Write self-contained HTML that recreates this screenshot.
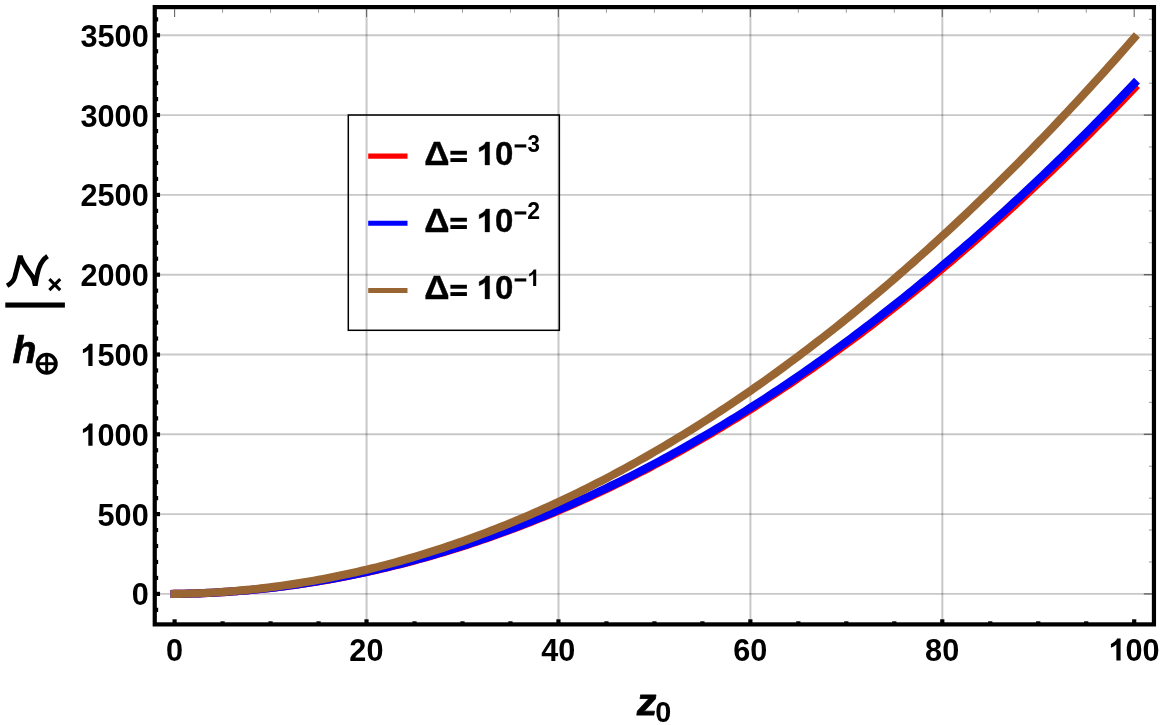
<!DOCTYPE html>
<html><head><meta charset="utf-8"><title>plot</title>
<style>html,body{margin:0;padding:0;background:#fff;}body{width:1163px;height:725px;overflow:hidden;}svg{display:block;will-change:transform;}text{font-family:"Liberation Sans",sans-serif;font-weight:bold;fill:#000;font-kerning:none;}</style>
</head><body>
<svg width="1163" height="725" viewBox="0 0 1163 725">
<rect x="0" y="0" width="1163" height="725" fill="#fff"/>
<g stroke="#000" stroke-opacity="0.216" stroke-width="1.9" fill="none">
<line x1="366.57" y1="7.10" x2="366.57" y2="624.40" stroke-width="2"/>
<line x1="558.49" y1="7.10" x2="558.49" y2="624.40" stroke-width="2"/>
<line x1="750.41" y1="7.10" x2="750.41" y2="624.40" stroke-width="2"/>
<line x1="942.33" y1="7.10" x2="942.33" y2="624.40" stroke-width="2"/>
<line x1="154.75" y1="593.90" x2="1153.95" y2="593.90"/>
<line x1="154.75" y1="514.10" x2="1153.95" y2="514.10"/>
<line x1="154.75" y1="434.30" x2="1153.95" y2="434.30"/>
<line x1="154.75" y1="354.50" x2="1153.95" y2="354.50"/>
<line x1="154.75" y1="274.70" x2="1153.95" y2="274.70"/>
<line x1="154.75" y1="194.90" x2="1153.95" y2="194.90"/>
<line x1="154.75" y1="115.10" x2="1153.95" y2="115.10"/>
<line x1="154.75" y1="35.30" x2="1153.95" y2="35.30"/>
</g>
<polyline points="174.60,593.90 179.40,593.84 184.20,593.75 188.99,593.64 193.79,593.50 198.59,593.34 203.39,593.16 208.19,592.95 212.98,592.71 217.78,592.45 222.58,592.17 227.38,591.86 232.18,591.52 236.97,591.17 241.77,590.78 246.57,590.37 251.37,589.94 256.17,589.48 260.96,589.00 265.76,588.49 270.56,587.96 275.36,587.40 280.16,586.82 284.95,586.21 289.75,585.58 294.55,584.92 299.35,584.24 304.15,583.53 308.94,582.80 313.74,582.05 318.54,581.27 323.34,580.46 328.14,579.63 332.93,578.78 337.73,577.90 342.53,576.99 347.33,576.06 352.13,575.11 356.92,574.13 361.72,573.13 366.52,572.10 371.32,571.04 376.12,569.97 380.91,568.86 385.71,567.74 390.51,566.58 395.31,565.41 400.11,564.20 404.90,562.98 409.70,561.73 414.50,560.45 419.30,559.15 424.10,557.82 428.89,556.47 433.69,555.10 438.49,553.69 443.29,552.27 448.09,550.82 452.88,549.34 457.68,547.85 462.48,546.32 467.28,544.77 472.08,543.20 476.87,541.60 481.67,539.98 486.47,538.33 491.27,536.65 496.07,534.96 500.86,533.23 505.66,531.49 510.46,529.71 515.26,527.92 520.06,526.09 524.85,524.25 529.65,522.38 534.45,520.48 539.25,518.56 544.05,516.61 548.84,514.64 553.64,512.65 558.44,510.63 563.24,508.58 568.04,506.51 572.83,504.42 577.63,502.30 582.43,500.15 587.23,497.98 592.03,495.79 596.82,493.57 601.62,491.33 606.42,489.06 611.22,486.77 616.02,484.45 620.81,482.11 625.61,479.74 630.41,477.35 635.21,474.93 640.01,472.49 644.80,470.02 649.60,467.53 654.40,465.01 659.20,462.47 664.00,459.91 668.79,457.32 673.59,454.70 678.39,452.06 683.19,449.40 687.99,446.71 692.78,443.99 697.58,441.25 702.38,438.49 707.18,435.70 711.98,432.89 716.77,430.05 721.57,427.18 726.37,424.30 731.17,421.38 735.97,418.45 740.76,415.48 745.56,412.50 750.36,409.48 755.16,406.45 759.96,403.39 764.75,400.30 769.55,397.19 774.35,394.05 779.15,390.89 783.95,387.71 788.74,384.50 793.54,381.26 798.34,378.00 803.14,374.72 807.94,371.41 812.73,368.07 817.53,364.71 822.33,361.33 827.13,357.92 831.93,354.49 836.72,351.03 841.52,347.55 846.32,344.04 851.12,340.51 855.92,336.95 860.71,333.37 865.51,329.76 870.31,326.13 875.11,322.47 879.91,318.79 884.70,315.08 889.50,311.35 894.30,307.60 899.10,303.81 903.90,300.01 908.69,296.18 913.49,292.32 918.29,288.44 923.09,284.54 927.89,280.61 932.68,276.66 937.48,272.68 942.28,268.67 947.08,264.65 951.88,260.59 956.67,256.51 961.47,252.41 966.27,248.28 971.07,244.13 975.87,239.95 980.66,235.75 985.46,231.52 990.26,227.27 995.06,223.00 999.86,218.69 1004.65,214.37 1009.45,210.02 1014.25,205.64 1019.05,201.24 1023.85,196.82 1028.64,192.37 1033.44,187.89 1038.24,183.39 1043.04,178.87 1047.84,174.32 1052.63,169.74 1057.43,165.15 1062.23,160.52 1067.03,155.87 1071.83,151.20 1076.62,146.50 1081.42,141.78 1086.22,137.03 1091.02,132.26 1095.82,127.46 1100.61,122.64 1105.41,117.79 1110.21,112.92 1115.01,108.03 1119.81,103.10 1124.60,98.16 1129.40,93.19 1134.20,88.19" fill="none" stroke="#ff0000" stroke-width="8.15" stroke-linecap="square" stroke-linejoin="round"/>
<polyline points="174.60,593.90 179.40,593.84 184.20,593.75 188.99,593.64 193.79,593.50 198.59,593.34 203.39,593.15 208.19,592.94 212.98,592.70 217.78,592.44 222.58,592.15 227.38,591.84 232.18,591.50 236.97,591.14 241.77,590.75 246.57,590.34 251.37,589.90 256.17,589.44 260.96,588.95 265.76,588.44 270.56,587.90 275.36,587.34 280.16,586.75 284.95,586.14 289.75,585.50 294.55,584.84 299.35,584.15 304.15,583.44 308.94,582.70 313.74,581.94 318.54,581.15 323.34,580.34 328.14,579.50 332.93,578.64 337.73,577.75 342.53,576.84 347.33,575.90 352.13,574.94 356.92,573.95 361.72,572.94 366.52,571.90 371.32,570.84 376.12,569.75 380.91,568.64 385.71,567.50 390.51,566.34 395.31,565.15 400.11,563.93 404.90,562.70 409.70,561.43 414.50,560.15 419.30,558.83 424.10,557.49 428.89,556.13 433.69,554.74 438.49,553.33 443.29,551.89 448.09,550.43 452.88,548.94 457.68,547.43 462.48,545.89 467.28,544.33 472.08,542.74 476.87,541.12 481.67,539.49 486.47,537.82 491.27,536.13 496.07,534.42 500.86,532.68 505.66,530.92 510.46,529.13 515.26,527.32 520.06,525.48 524.85,523.61 529.65,521.73 534.45,519.81 539.25,517.87 544.05,515.91 548.84,513.92 553.64,511.91 558.44,509.87 563.24,507.81 568.04,505.72 572.83,503.60 577.63,501.47 582.43,499.30 587.23,497.11 592.03,494.90 596.82,492.66 601.62,490.40 606.42,488.11 611.22,485.79 616.02,483.46 620.81,481.09 625.61,478.70 630.41,476.29 635.21,473.85 640.01,471.39 644.80,468.90 649.60,466.38 654.40,463.84 659.20,461.28 664.00,458.69 668.79,456.08 673.59,453.44 678.39,450.77 683.19,448.08 687.99,445.37 692.78,442.63 697.58,439.87 702.38,437.08 707.18,434.26 711.98,431.42 716.77,428.56 721.57,425.67 726.37,422.76 731.17,419.82 735.97,416.85 740.76,413.86 745.56,410.85 750.36,407.81 755.16,404.75 759.96,401.66 764.75,398.54 769.55,395.40 774.35,392.24 779.15,389.05 783.95,385.83 788.74,382.59 793.54,379.33 798.34,376.04 803.14,372.73 807.94,369.39 812.73,366.02 817.53,362.63 822.33,359.22 827.13,355.78 831.93,352.31 836.72,348.82 841.52,345.31 846.32,341.77 851.12,338.20 855.92,334.61 860.71,331.00 865.51,327.36 870.31,323.69 875.11,320.00 879.91,316.29 884.70,312.55 889.50,308.79 894.30,305.00 899.10,301.18 903.90,297.34 908.69,293.48 913.49,289.59 918.29,285.67 923.09,281.73 927.89,277.77 932.68,273.78 937.48,269.76 942.28,265.72 947.08,261.65 951.88,257.56 956.67,253.45 961.47,249.31 966.27,245.14 971.07,240.95 975.87,236.74 980.66,232.50 985.46,228.23 990.26,223.94 995.06,219.63 999.86,215.29 1004.65,210.92 1009.45,206.53 1014.25,202.12 1019.05,197.68 1023.85,193.21 1028.64,188.72 1033.44,184.20 1038.24,179.66 1043.04,175.10 1047.84,170.51 1052.63,165.89 1057.43,161.25 1062.23,156.59 1067.03,151.90 1071.83,147.18 1076.62,142.44 1081.42,137.67 1086.22,132.88 1091.02,128.07 1095.82,123.23 1100.61,118.36 1105.41,113.47 1110.21,108.55 1115.01,103.61 1119.81,98.65 1124.60,93.66 1129.40,88.64 1134.20,83.60" fill="none" stroke="#0000ff" stroke-width="8.15" stroke-linecap="square" stroke-linejoin="round"/>
<polyline points="174.60,593.90 179.40,593.83 184.20,593.72 188.99,593.59 193.79,593.44 198.59,593.25 203.39,593.04 208.19,592.81 212.98,592.54 217.78,592.25 222.58,591.93 227.38,591.58 232.18,591.21 236.97,590.81 241.77,590.38 246.57,589.92 251.37,589.44 256.17,588.93 260.96,588.39 265.76,587.83 270.56,587.24 275.36,586.62 280.16,585.97 284.95,585.30 289.75,584.60 294.55,583.87 299.35,583.12 304.15,582.34 308.94,581.53 313.74,580.69 318.54,579.83 323.34,578.94 328.14,578.02 332.93,577.08 337.73,576.10 342.53,575.10 347.33,574.08 352.13,573.02 356.92,571.94 361.72,570.84 366.52,569.70 371.32,568.54 376.12,567.35 380.91,566.13 385.71,564.89 390.51,563.62 395.31,562.32 400.11,560.99 404.90,559.64 409.70,558.26 414.50,556.85 419.30,555.42 424.10,553.96 428.89,552.47 433.69,550.95 438.49,549.41 443.29,547.84 448.09,546.24 452.88,544.62 457.68,542.97 462.48,541.29 467.28,539.58 472.08,537.85 476.87,536.09 481.67,534.30 486.47,532.49 491.27,530.64 496.07,528.77 500.86,526.88 505.66,524.95 510.46,523.00 515.26,521.03 520.06,519.02 524.85,516.99 529.65,514.93 534.45,512.84 539.25,510.73 544.05,508.59 548.84,506.42 553.64,504.22 558.44,502.00 563.24,499.75 568.04,497.47 572.83,495.17 577.63,492.84 582.43,490.48 587.23,488.09 592.03,485.68 596.82,483.24 601.62,480.77 606.42,478.28 611.22,475.76 616.02,473.21 620.81,470.63 625.61,468.03 630.41,465.40 635.21,462.74 640.01,460.06 644.80,457.34 649.60,454.60 654.40,451.84 659.20,449.04 664.00,446.22 668.79,443.38 673.59,440.50 678.39,437.60 683.19,434.67 687.99,431.71 692.78,428.73 697.58,425.72 702.38,422.68 707.18,419.61 711.98,416.52 716.77,413.40 721.57,410.25 726.37,407.08 731.17,403.88 735.97,400.65 740.76,397.39 745.56,394.11 750.36,390.80 755.16,387.46 759.96,384.10 764.75,380.71 769.55,377.29 774.35,373.84 779.15,370.37 783.95,366.87 788.74,363.34 793.54,359.79 798.34,356.20 803.14,352.59 807.94,348.96 812.73,345.29 817.53,341.60 822.33,337.89 827.13,334.14 831.93,330.37 836.72,326.57 841.52,322.74 846.32,318.89 851.12,315.01 855.92,311.10 860.71,307.16 865.51,303.20 870.31,299.21 875.11,295.19 879.91,291.15 884.70,287.08 889.50,282.98 894.30,278.85 899.10,274.70 903.90,270.52 908.69,266.31 913.49,262.08 918.29,257.82 923.09,253.53 927.89,249.21 932.68,244.87 937.48,240.50 942.28,236.10 947.08,231.68 951.88,227.22 956.67,222.74 961.47,218.24 966.27,213.70 971.07,209.14 975.87,204.56 980.66,199.94 985.46,195.30 990.26,190.63 995.06,185.93 999.86,181.21 1004.65,176.46 1009.45,171.68 1014.25,166.87 1019.05,162.04 1023.85,157.18 1028.64,152.29 1033.44,147.38 1038.24,142.44 1043.04,137.47 1047.84,132.47 1052.63,127.45 1057.43,122.40 1062.23,117.32 1067.03,112.22 1071.83,107.09 1076.62,101.93 1081.42,96.74 1086.22,91.53 1091.02,86.29 1095.82,81.02 1100.61,75.73 1105.41,70.40 1110.21,65.05 1115.01,59.68 1119.81,54.27 1124.60,48.84 1129.40,43.39 1134.20,37.90" fill="none" stroke="#996633" stroke-width="8.15" stroke-linecap="square" stroke-linejoin="round"/>
<line x1="174.60" y1="9.20" x2="174.60" y2="17.00" stroke="#666" stroke-width="1.1"/>
<line x1="222.58" y1="9.20" x2="222.58" y2="12.80" stroke="#999" stroke-width="1"/>
<line x1="270.56" y1="9.20" x2="270.56" y2="12.80" stroke="#999" stroke-width="1"/>
<line x1="318.54" y1="9.20" x2="318.54" y2="12.80" stroke="#999" stroke-width="1"/>
<line x1="366.52" y1="9.20" x2="366.52" y2="17.00" stroke="#666" stroke-width="1.1"/>
<line x1="414.50" y1="9.20" x2="414.50" y2="12.80" stroke="#999" stroke-width="1"/>
<line x1="462.48" y1="9.20" x2="462.48" y2="12.80" stroke="#999" stroke-width="1"/>
<line x1="510.46" y1="9.20" x2="510.46" y2="12.80" stroke="#999" stroke-width="1"/>
<line x1="558.44" y1="9.20" x2="558.44" y2="17.00" stroke="#666" stroke-width="1.1"/>
<line x1="606.42" y1="9.20" x2="606.42" y2="12.80" stroke="#999" stroke-width="1"/>
<line x1="654.40" y1="9.20" x2="654.40" y2="12.80" stroke="#999" stroke-width="1"/>
<line x1="702.38" y1="9.20" x2="702.38" y2="12.80" stroke="#999" stroke-width="1"/>
<line x1="750.36" y1="9.20" x2="750.36" y2="17.00" stroke="#666" stroke-width="1.1"/>
<line x1="798.34" y1="9.20" x2="798.34" y2="12.80" stroke="#999" stroke-width="1"/>
<line x1="846.32" y1="9.20" x2="846.32" y2="12.80" stroke="#999" stroke-width="1"/>
<line x1="894.30" y1="9.20" x2="894.30" y2="12.80" stroke="#999" stroke-width="1"/>
<line x1="942.28" y1="9.20" x2="942.28" y2="17.00" stroke="#666" stroke-width="1.1"/>
<line x1="990.26" y1="9.20" x2="990.26" y2="12.80" stroke="#999" stroke-width="1"/>
<line x1="1038.24" y1="9.20" x2="1038.24" y2="12.80" stroke="#999" stroke-width="1"/>
<line x1="1086.22" y1="9.20" x2="1086.22" y2="12.80" stroke="#999" stroke-width="1"/>
<line x1="1134.20" y1="9.20" x2="1134.20" y2="17.00" stroke="#666" stroke-width="1.1"/>
<line x1="1143.85" y1="593.90" x2="1151.85" y2="593.90" stroke="#555" stroke-width="1.2"/>
<line x1="1148.95" y1="561.98" x2="1151.85" y2="561.98" stroke="#999" stroke-width="1"/>
<line x1="1148.95" y1="530.06" x2="1151.85" y2="530.06" stroke="#999" stroke-width="1"/>
<line x1="1148.95" y1="498.14" x2="1151.85" y2="498.14" stroke="#999" stroke-width="1"/>
<line x1="1148.95" y1="466.22" x2="1151.85" y2="466.22" stroke="#999" stroke-width="1"/>
<line x1="1143.85" y1="434.30" x2="1151.85" y2="434.30" stroke="#555" stroke-width="1.2"/>
<line x1="1148.95" y1="402.38" x2="1151.85" y2="402.38" stroke="#999" stroke-width="1"/>
<line x1="1148.95" y1="370.46" x2="1151.85" y2="370.46" stroke="#999" stroke-width="1"/>
<line x1="1148.95" y1="338.54" x2="1151.85" y2="338.54" stroke="#999" stroke-width="1"/>
<line x1="1148.95" y1="306.62" x2="1151.85" y2="306.62" stroke="#999" stroke-width="1"/>
<line x1="1143.85" y1="274.70" x2="1151.85" y2="274.70" stroke="#555" stroke-width="1.2"/>
<line x1="1148.95" y1="242.78" x2="1151.85" y2="242.78" stroke="#999" stroke-width="1"/>
<line x1="1148.95" y1="210.86" x2="1151.85" y2="210.86" stroke="#999" stroke-width="1"/>
<line x1="1148.95" y1="178.94" x2="1151.85" y2="178.94" stroke="#999" stroke-width="1"/>
<line x1="1148.95" y1="147.02" x2="1151.85" y2="147.02" stroke="#999" stroke-width="1"/>
<line x1="1143.85" y1="115.10" x2="1151.85" y2="115.10" stroke="#555" stroke-width="1.2"/>
<line x1="1148.95" y1="83.18" x2="1151.85" y2="83.18" stroke="#999" stroke-width="1"/>
<line x1="1148.95" y1="51.26" x2="1151.85" y2="51.26" stroke="#999" stroke-width="1"/>
<line x1="1148.95" y1="19.34" x2="1151.85" y2="19.34" stroke="#999" stroke-width="1"/>
<g stroke="#000" stroke-width="4.2" fill="none">
<line x1="174.60" y1="619.30" x2="174.60" y2="624.40"/>
<line x1="222.58" y1="621.30" x2="222.58" y2="624.40"/>
<line x1="270.56" y1="621.30" x2="270.56" y2="624.40"/>
<line x1="318.54" y1="621.30" x2="318.54" y2="624.40"/>
<line x1="366.52" y1="619.30" x2="366.52" y2="624.40"/>
<line x1="414.50" y1="621.30" x2="414.50" y2="624.40"/>
<line x1="462.48" y1="621.30" x2="462.48" y2="624.40"/>
<line x1="510.46" y1="621.30" x2="510.46" y2="624.40"/>
<line x1="558.44" y1="619.30" x2="558.44" y2="624.40"/>
<line x1="606.42" y1="621.30" x2="606.42" y2="624.40"/>
<line x1="654.40" y1="621.30" x2="654.40" y2="624.40"/>
<line x1="702.38" y1="621.30" x2="702.38" y2="624.40"/>
<line x1="750.36" y1="619.30" x2="750.36" y2="624.40"/>
<line x1="798.34" y1="621.30" x2="798.34" y2="624.40"/>
<line x1="846.32" y1="621.30" x2="846.32" y2="624.40"/>
<line x1="894.30" y1="621.30" x2="894.30" y2="624.40"/>
<line x1="942.28" y1="619.30" x2="942.28" y2="624.40"/>
<line x1="990.26" y1="621.30" x2="990.26" y2="624.40"/>
<line x1="1038.24" y1="621.30" x2="1038.24" y2="624.40"/>
<line x1="1086.22" y1="621.30" x2="1086.22" y2="624.40"/>
<line x1="1134.20" y1="619.30" x2="1134.20" y2="624.40"/>
<line x1="154.75" y1="609.86" x2="158.15" y2="609.86"/>
<line x1="154.75" y1="593.90" x2="160.05" y2="593.90"/>
<line x1="154.75" y1="577.94" x2="158.15" y2="577.94"/>
<line x1="154.75" y1="561.98" x2="158.15" y2="561.98"/>
<line x1="154.75" y1="546.02" x2="158.15" y2="546.02"/>
<line x1="154.75" y1="530.06" x2="158.15" y2="530.06"/>
<line x1="154.75" y1="514.10" x2="160.05" y2="514.10"/>
<line x1="154.75" y1="498.14" x2="158.15" y2="498.14"/>
<line x1="154.75" y1="482.18" x2="158.15" y2="482.18"/>
<line x1="154.75" y1="466.22" x2="158.15" y2="466.22"/>
<line x1="154.75" y1="450.26" x2="158.15" y2="450.26"/>
<line x1="154.75" y1="434.30" x2="160.05" y2="434.30"/>
<line x1="154.75" y1="418.34" x2="158.15" y2="418.34"/>
<line x1="154.75" y1="402.38" x2="158.15" y2="402.38"/>
<line x1="154.75" y1="386.42" x2="158.15" y2="386.42"/>
<line x1="154.75" y1="370.46" x2="158.15" y2="370.46"/>
<line x1="154.75" y1="354.50" x2="160.05" y2="354.50"/>
<line x1="154.75" y1="338.54" x2="158.15" y2="338.54"/>
<line x1="154.75" y1="322.58" x2="158.15" y2="322.58"/>
<line x1="154.75" y1="306.62" x2="158.15" y2="306.62"/>
<line x1="154.75" y1="290.66" x2="158.15" y2="290.66"/>
<line x1="154.75" y1="274.70" x2="160.05" y2="274.70"/>
<line x1="154.75" y1="258.74" x2="158.15" y2="258.74"/>
<line x1="154.75" y1="242.78" x2="158.15" y2="242.78"/>
<line x1="154.75" y1="226.82" x2="158.15" y2="226.82"/>
<line x1="154.75" y1="210.86" x2="158.15" y2="210.86"/>
<line x1="154.75" y1="194.90" x2="160.05" y2="194.90"/>
<line x1="154.75" y1="178.94" x2="158.15" y2="178.94"/>
<line x1="154.75" y1="162.98" x2="158.15" y2="162.98"/>
<line x1="154.75" y1="147.02" x2="158.15" y2="147.02"/>
<line x1="154.75" y1="131.06" x2="158.15" y2="131.06"/>
<line x1="154.75" y1="115.10" x2="160.05" y2="115.10"/>
<line x1="154.75" y1="99.14" x2="158.15" y2="99.14"/>
<line x1="154.75" y1="83.18" x2="158.15" y2="83.18"/>
<line x1="154.75" y1="67.22" x2="158.15" y2="67.22"/>
<line x1="154.75" y1="51.26" x2="158.15" y2="51.26"/>
<line x1="154.75" y1="35.30" x2="160.05" y2="35.30"/>
<line x1="154.75" y1="19.34" x2="158.15" y2="19.34"/>
</g>
<rect x="154.75" y="7.10" width="999.20" height="617.30" fill="none" stroke="#000" stroke-width="4.2"/>
<g transform="translate(131.68,605.30) scale(0.9700,1)"><text x="0.00" font-size="31.64">0</text></g>
<g transform="translate(97.54,525.50) scale(0.9700,1)"><text x="0.00" font-size="31.64">500</text></g>
<g transform="translate(80.47,445.70) scale(0.9700,1)"><path transform="translate(0.00,0) scale(0.01545,-0.01545)" d="M806,0 H525 V1033 Q371,892 162,825 V1074 Q272,1109 401,1207 Q530,1305 578,1430 H806 Z" fill="#000"/><text x="17.60" font-size="31.64">000</text></g>
<g transform="translate(80.47,365.90) scale(0.9700,1)"><path transform="translate(0.00,0) scale(0.01545,-0.01545)" d="M806,0 H525 V1033 Q371,892 162,825 V1074 Q272,1109 401,1207 Q530,1305 578,1430 H806 Z" fill="#000"/><text x="17.60" font-size="31.64">500</text></g>
<g transform="translate(80.47,286.10) scale(0.9700,1)"><text x="0.00" font-size="31.64">2000</text></g>
<g transform="translate(80.47,206.30) scale(0.9700,1)"><text x="0.00" font-size="31.64">2500</text></g>
<g transform="translate(80.47,126.50) scale(0.9700,1)"><text x="0.00" font-size="31.64">3000</text></g>
<g transform="translate(80.47,46.70) scale(0.9700,1)"><text x="0.00" font-size="31.64">3500</text></g>
<g transform="translate(165.97,660.50) scale(0.9700,1)"><text x="0.00" font-size="31.64">0</text></g>
<g transform="translate(349.35,660.50) scale(0.9700,1)"><text x="0.00" font-size="31.64">20</text></g>
<g transform="translate(541.27,660.50) scale(0.9700,1)"><text x="0.00" font-size="31.64">40</text></g>
<g transform="translate(733.19,660.50) scale(0.9700,1)"><text x="0.00" font-size="31.64">60</text></g>
<g transform="translate(925.11,660.50) scale(0.9700,1)"><text x="0.00" font-size="31.64">80</text></g>
<g transform="translate(1108.50,660.50) scale(0.9700,1)"><path transform="translate(0.00,0) scale(0.01545,-0.01545)" d="M806,0 H525 V1033 Q371,892 162,825 V1074 Q272,1109 401,1207 Q530,1305 578,1430 H806 Z" fill="#000"/><text x="17.60" font-size="31.64">00</text></g>
<g transform="translate(636.90,714.50) scale(1.0713,1) skewX(3.00)"><text x="0.00" font-size="38.05" font-style="italic" stroke="#000" stroke-width="0.80" stroke-linejoin="round">z</text></g>
<g transform="translate(655.36,721.86) scale(0.9782,1)"><text x="0.00" font-size="29.45">0</text></g>
<path d="M 7.05,285.75 C 11.59,283.14 13.52,281.21 14.68,277.35 L 20.28,255.81 C 21.72,263.35 28.00,270.10 32.35,276.38 C 33.79,278.79 34.76,282.17 35.24,285.55 C 37.17,273.97 38.62,261.90 47.60,256.30" fill="none" stroke="#000" stroke-width="4.8" stroke-linejoin="bevel" stroke-linecap="butt"/>
<path d="M 49.38,279.21 L 60.22,290.05 M 49.38,290.05 L 60.22,279.21" stroke="#000" stroke-width="3.1" fill="none"/>
<rect x="5.3" y="302.5" width="59.6" height="5.1" fill="#000"/>
<g transform="translate(12.38,362.95) scale(1.0167,1)"><text x="0.00" font-size="38.50" font-style="italic" stroke="#000" stroke-width="0.70" stroke-linejoin="round">h</text></g>
<g stroke="#000" fill="none"><circle cx="46.7" cy="363.7" r="9.2" stroke-width="3.7"/><line x1="37" y1="363.7" x2="56.4" y2="363.7" stroke-width="2.9"/><line x1="46.7" y1="354" x2="46.7" y2="373.4" stroke-width="2.9"/></g>
<rect x="348.3" y="115.0" width="211.05" height="215.3" fill="none" stroke="#000" stroke-width="1.5"/>
<line x1="368.2" y1="156.15" x2="407.5" y2="156.15" stroke="#ff0000" stroke-width="5.1"/>
<g transform="translate(424.18,164.70) scale(1.0749,1)"><text x="0.00" font-size="32.70" stroke="#000" stroke-width="0.40" stroke-linejoin="round">Δ</text></g>
<rect x="450.4" y="150.80" width="16.5" height="3.9" fill="#000"/><rect x="450.4" y="158.10" width="16.5" height="3.9" fill="#000"/>
<g transform="translate(476.59,164.88) scale(1.0058,1)"><path transform="translate(0.00,0) scale(0.01600,-0.01600)" d="M806,0 H525 V1033 Q371,892 162,825 V1074 Q272,1109 401,1207 Q530,1305 578,1430 H806 Z" fill="#000" stroke="#000" stroke-width="25.0" stroke-linejoin="round"/><text x="18.22" font-size="32.77" stroke="#000" stroke-width="0.40" stroke-linejoin="round">0</text></g>
<rect x="514.6" y="144.40" width="11.7" height="3.1" fill="#000"/>
<g transform="translate(527.49,151.94) scale(0.9544,1)"><text x="0.00" font-size="23.40">3</text></g>
<line x1="368.2" y1="223.30" x2="407.5" y2="223.30" stroke="#0000ff" stroke-width="5.1"/>
<g transform="translate(424.18,231.70) scale(1.0749,1)"><text x="0.00" font-size="32.70" stroke="#000" stroke-width="0.40" stroke-linejoin="round">Δ</text></g>
<rect x="450.4" y="217.80" width="16.5" height="3.9" fill="#000"/><rect x="450.4" y="225.10" width="16.5" height="3.9" fill="#000"/>
<g transform="translate(476.59,231.88) scale(1.0058,1)"><path transform="translate(0.00,0) scale(0.01600,-0.01600)" d="M806,0 H525 V1033 Q371,892 162,825 V1074 Q272,1109 401,1207 Q530,1305 578,1430 H806 Z" fill="#000" stroke="#000" stroke-width="25.0" stroke-linejoin="round"/><text x="18.22" font-size="32.77" stroke="#000" stroke-width="0.40" stroke-linejoin="round">0</text></g>
<rect x="514.6" y="211.40" width="11.7" height="3.1" fill="#000"/>
<g transform="translate(527.20,219.20) scale(0.9698,1)"><text x="0.00" font-size="23.77">2</text></g>
<line x1="368.2" y1="290.45" x2="407.5" y2="290.45" stroke="#996633" stroke-width="5.1"/>
<g transform="translate(424.18,298.70) scale(1.0749,1)"><text x="0.00" font-size="32.70" stroke="#000" stroke-width="0.40" stroke-linejoin="round">Δ</text></g>
<rect x="450.4" y="284.80" width="16.5" height="3.9" fill="#000"/><rect x="450.4" y="292.10" width="16.5" height="3.9" fill="#000"/>
<g transform="translate(476.59,298.88) scale(1.0058,1)"><path transform="translate(0.00,0) scale(0.01600,-0.01600)" d="M806,0 H525 V1033 Q371,892 162,825 V1074 Q272,1109 401,1207 Q530,1305 578,1430 H806 Z" fill="#000" stroke="#000" stroke-width="25.0" stroke-linejoin="round"/><text x="18.22" font-size="32.77" stroke="#000" stroke-width="0.40" stroke-linejoin="round">0</text></g>
<rect x="514.6" y="278.40" width="11.7" height="3.1" fill="#000"/>
<g transform="translate(527.44,285.90) scale(0.9536,1)"><path transform="translate(0.00,0) scale(0.01140,-0.01140)" d="M806,0 H525 V1033 Q371,892 162,825 V1074 Q272,1109 401,1207 Q530,1305 578,1430 H806 Z" fill="#000"/></g>
</svg>
</body></html>
